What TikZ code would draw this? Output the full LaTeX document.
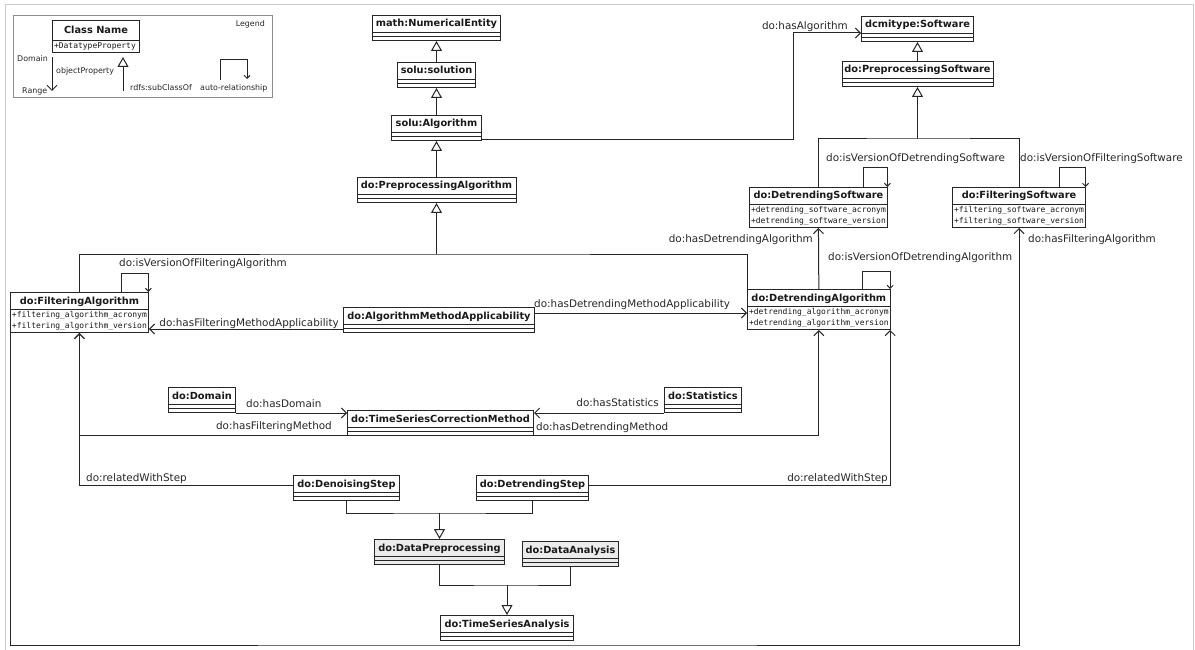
\documentclass[tikz,border=0pt]{standalone}
\usepackage{fontspec}
\setmainfont{DejaVu Sans}
\setmonofont{DejaVu Sans Mono}
\usetikzlibrary{arrows.meta,shapes.multipart}
\newcommand{\tstrut}{\rule[-5pt]{0pt}{16pt}}
\newcommand{\noattrs}{\nodepart{two}\rule{0pt}{3pt}\nodepart{three}\rule{0pt}{3pt}}
\newcommand{\attrs}[1]{{\normalfont\ttfamily\fontsize{8}{11}\selectfont\begin{tabular}{@{}l@{}}#1\end{tabular}}}

\begin{document}
\begin{tikzpicture}[x=1pt,y=-1pt]
			\tikzstyle{class} = [draw=black!85, line width=1pt, fill=white, text=black!90, rectangle split, rectangle split parts=3, inner xsep=2pt, inner ysep=0pt, anchor=north west, font=\bfseries\fontsize{9.8}{12}\selectfont]
			\tikzstyle{attrclass} = [class, rectangle split parts=2, rectangle split part align={center,left}, inner xsep=1.5pt]
			\tikzstyle{lbl} = [inner sep=0pt, text=black!85, font=\fontsize{10.4}{12}\selectfont]
			\tikzstyle{legendtxt} = [inner sep=0pt, text=black!85, font=\fontsize{7.9}{9}\selectfont]
			\tikzstyle{conn} = [draw=black!85, line width=1pt]
			\tikzstyle{objprop} = [conn, -{Straight Barb[length=5pt,width=10pt]}]
			\tikzstyle{selfprop} = [conn, -{Straight Barb[length=3pt,width=6pt]}]
			\tikzstyle{subclass} = [conn, -{Triangle[open,length=10pt,width=11pt,fill=white]}]
			\useasboundingbox (0,0) rectangle (1195,650);
			\draw[black!20, line width=1pt] (5,5) rectangle (1193,660);

			\node[draw=black!45, line width=0.8pt, minimum width=259pt, minimum height=82pt, anchor=north west, inner sep=0pt] (legend) at (13,15) {};
			\node[attrclass, minimum width=87pt] (lgClass) at (52,20) {\rule[-6pt]{0pt}{19pt}Class Name\nodepart{two}\attrs{+DatatypeProperty}};
			\node[legendtxt, anchor=base east] (lgTitle) at (265,27) {Legend};
			\node[legendtxt, anchor=base west] (lgDomainTxt) at (17,62) {Domain};
			\node[legendtxt, anchor=base west] (lgRangeTxt) at (22,94) {Range};
			\node[legendtxt, anchor=base west] (lgPropTxt) at (56,74) {objectProperty};
			\node[legendtxt, anchor=base west] (lgSubTxt) at (130,91) {rdfs:subClassOf};
			\node[legendtxt, anchor=base west] (lgAutoTxt) at (200,91) {auto-relationship};
			\coordinate (lgDomain) at (52,57);
			\coordinate (lgRange) at (52,91);
			\coordinate (lgSubFrom) at (123,91);
			\coordinate (lgSubTo) at (123,57);
			\coordinate (lgAutoFrom) at (220,80);
			\coordinate (lgAutoTo) at (247,79);
			\draw[objprop] (lgDomain) -- (lgRange);
			\draw[subclass] (lgSubFrom) -- (lgSubTo);
			\draw[selfprop] (lgAutoFrom) -- ++(0,-20) -| (lgAutoTo);

			\node[class, minimum width=128pt] (mathNE) at (372,15) {\tstrut math:NumericalEntity\noattrs};
			\node[class, minimum width=78pt] (soluSol) at (397,62) {\tstrut solu:solution\noattrs};
			\node[class, minimum width=90pt] (soluAlg) at (391,115) {\tstrut solu:Algorithm\noattrs};
			\node[class, minimum width=159pt] (preAlg) at (356.5,177) {\tstrut do:PreprocessingAlgorithm\noattrs};
			\node[class, minimum width=112pt] (dcmi) at (861,16) {\tstrut dcmitype:Software\noattrs};
			\node[class, minimum width=151pt] (preSoft) at (841.5,61) {\tstrut do:PreprocessingSoftware\noattrs};
			\node[attrclass] (detSoft) at (749,187) {\tstrut do:DetrendingSoftware\nodepart{two}\attrs{+detrending\_software\_acronym\\+detrending\_software\_version}};
			\node[attrclass] (filSoft) at (952,187) {\tstrut do:FilteringSoftware\nodepart{two}\attrs{+filtering\_software\_acronym\\+filtering\_software\_version}};
			\node[attrclass] (filAlg) at (10,292) {\tstrut do:FilteringAlgorithm\nodepart{two}\attrs{+filtering\_algorithm\_acronym\\+filtering\_algorithm\_version}};
			\node[attrclass] (detAlg) at (747,289) {\tstrut do:DetrendingAlgorithm\nodepart{two}\attrs{+detrending\_algorithm\_acronym\\+detrending\_algorithm\_version}};
			\node[class, minimum width=191pt] (ama) at (343,307) {\tstrut do:AlgorithmMethodApplicability\noattrs};
			\node[class, minimum width=67pt] (domain) at (168,387) {\tstrut do:Domain\noattrs};
			\node[class, minimum width=77pt] (stats) at (664,387) {\tstrut do:Statistics\noattrs};
			\node[class, minimum width=186pt] (tscm) at (347,410) {\tstrut do:TimeSeriesCorrectionMethod\noattrs};
			\node[class, minimum width=106pt] (denoise) at (293,475) {\tstrut do:DenoisingStep\noattrs};
			\node[class, minimum width=112pt] (detStep) at (476,475) {\tstrut do:DetrendingStep\noattrs};
			\node[class, minimum width=130pt, fill=black!8] (dataPre) at (374,539) {\tstrut do:DataPreprocessing\noattrs};
			\node[class, minimum width=96pt, fill=black!8] (dataAna) at (522,541) {\tstrut do:DataAnalysis\noattrs};
			\node[class, minimum width=133pt] (tsa) at (440,615) {\tstrut do:TimeSeriesAnalysis\noattrs};

			\draw[subclass] (soluSol.north) -- (mathNE.south);
			\draw[subclass] (soluAlg.north) -- (soluSol.south);
			\draw[subclass] (preAlg.north) -- (soluAlg.south);
			\draw[subclass] (preSoft.north) -- (dcmi.south);
			\path (preAlg.south) ++(0,51) coordinate (algJoin);
			\path (preSoft.south) ++(0,52) coordinate (softJoin);
			\path (dataPre.north) ++(0,-26) coordinate (stepJoin);
			\path (tsa.north) ++(0,-30) coordinate (dataJoin);
			\draw[conn] (filAlg.north) |- (algJoin) -| ([xshift=0.5pt]detAlg.north west);
			\draw[subclass] (algJoin) -- (preAlg.south);
			\draw[conn] (detSoft.north) |- (softJoin) -| (filSoft.north);
			\draw[subclass] (softJoin) -- (preSoft.south);
			\draw[conn] (denoise.south) |- (stepJoin) -| (detStep.south);
			\draw[subclass] (stepJoin) -- (dataPre.north);
			\draw[conn] (dataPre.south) |- (dataJoin) -| (dataAna.south);
			\draw[subclass] (dataJoin) -- (tsa.north);

			\coordinate (algBend) at (793,33);
			\coordinate (filBottom) at (500,645);
			\coordinate (amaL) at ([yshift=-9pt]ama.west);
			\coordinate (amaR) at ([yshift=7pt]ama.east);
			\draw[objprop] ([yshift=1pt]soluAlg.south east) -| (algBend) -- (algBend -| dcmi.west);
			\draw[objprop] (detAlg.north) -- (detSoft.south);
			\draw[objprop] ([xshift=0.5pt]filAlg.south west) |- (filBottom) -| (filSoft.south);
			\draw[objprop] (amaL) -- (amaL -| filAlg.east);
			\draw[objprop] (amaR) -- (amaR -| detAlg.west);
			\draw[objprop] (domain.south east) -- (domain.south east -| tscm.west);
			\draw[objprop] (stats.south west) -- (stats.south west -| tscm.east);
			\draw[objprop] ([yshift=1pt]tscm.south west) -| (filAlg.south);
			\draw[objprop] ([yshift=1pt]tscm.south east) -| (detAlg.south);
			\draw[objprop] ([yshift=3pt]denoise.west) -| (filAlg.south);
			\draw[objprop] ([yshift=3pt]detStep.east) -| ([xshift=-0.5pt]detAlg.south east);

			\draw[selfprop] ([xshift=-27pt]filAlg.north east) -- ++(0,-19) -| ([xshift=-0.5pt]filAlg.north east);
			\draw[selfprop] ([xshift=-24pt]detSoft.north east) -- ++(0,-19) -| ([xshift=-0.5pt]detSoft.north east);
			\draw[selfprop] ([xshift=-27pt]filSoft.north east) -- ++(0,-19) -| ([xshift=-0.5pt]filSoft.north east);
			\draw[selfprop] ([xshift=-28pt]detAlg.north east) -- ++(0,-18) -| ([xshift=-0.5pt]detAlg.north east);

			\node[lbl, anchor=base east] (lblHasAlg) at (848,30) {do:hasAlgorithm};
			\node[lbl, anchor=base west] (lblVerDetSoft) at (826,162) {do:isVersionOfDetrendingSoftware};
			\node[lbl, anchor=base west] (lblVerFilSoft) at (1020,162) {do:isVersionOfFilteringSoftware};
			\node[lbl, anchor=base east] (lblHasDetAlg) at (813,243) {do:hasDetrendingAlgorithm};
			\node[lbl, anchor=base west] (lblHasFilAlg) at (1028,243) {do:hasFilteringAlgorithm};
			\node[lbl, anchor=base west] (lblVerDetAlg) at (828,260) {do:isVersionOfDetrendingAlgorithm};
			\node[lbl, anchor=base west] (lblVerFilAlg) at (119,266) {do:isVersionOfFilteringAlgorithm};
			\node[lbl, anchor=base east] (lblFilApp) at (339,326) {do:hasFilteringMethodApplicability};
			\node[lbl, anchor=base west] (lblDetApp) at (534,307) {do:hasDetrendingMethodApplicability};
			\node[lbl, anchor=base west] (lblDomain) at (246,407) {do:hasDomain};
			\node[lbl, anchor=base east] (lblFilMeth) at (332,429) {do:hasFilteringMethod};
			\node[lbl, anchor=base east] (lblStats) at (659,406) {do:hasStatistics};
			\node[lbl, anchor=base west] (lblDetMeth) at (536,430) {do:hasDetrendingMethod};
			\node[lbl, anchor=base west] (lblStepL) at (86,481) {do:relatedWithStep};
			\node[lbl, anchor=base east] (lblStepR) at (888,481) {do:relatedWithStep};
		\end{tikzpicture}
\end{document}
